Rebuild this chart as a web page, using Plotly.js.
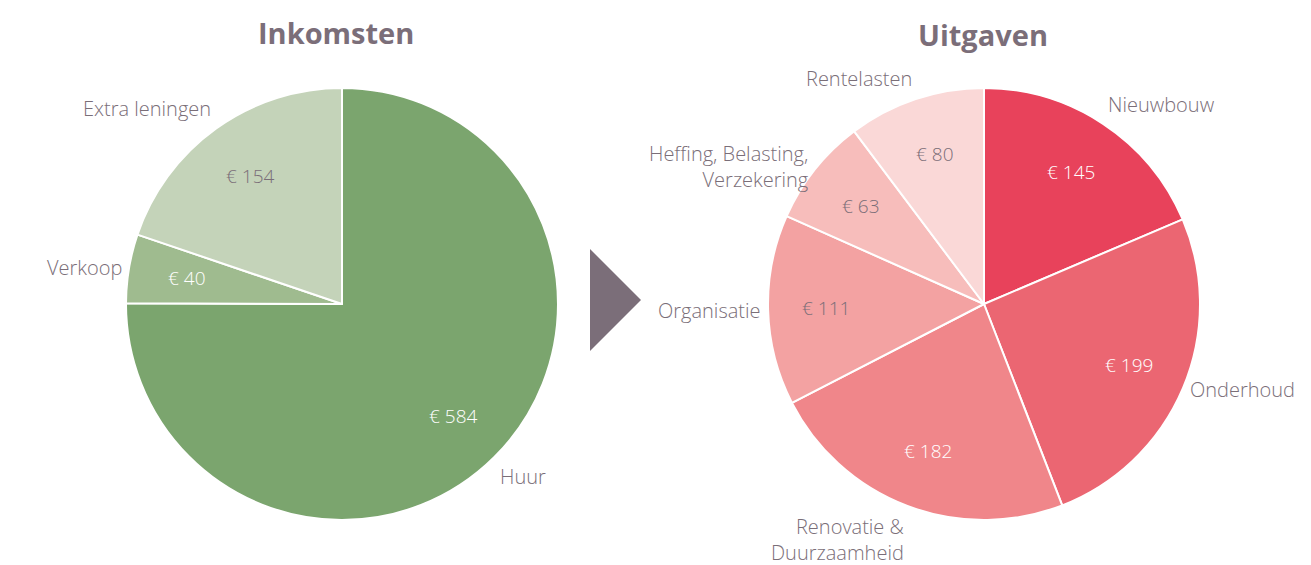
<!DOCTYPE html>
<html>
<head>
<meta charset="utf-8">
<script src="https://cdn.plot.ly/plotly-3.0.1.min.js"></script>
<style>html,body{margin:0;padding:0;background:#fff;}#chart{width:1311px;height:565px;}</style>
</head>
<body>
<div id="chart"></div>
<script>
// Data
const incomeLabels = ["Huur", "Verkoop", "Extra leningen"];
const incomeValues = [584, 40, 154];
const incomeColors = ["#7ba56e", "#9fbb8f", "#c4d3b9"];
const incomeValueTextColors = ["#ffffff", "#ffffff", "#7a6e78"];

const expenseLabels = ["Nieuwbouw", "Onderhoud", "Renovatie &<br>Duurzaamheid", "Organisatie", "Heffing, Belasting,<br>Verzekering", "Rentelasten"];
const expenseValues = [145, 199, 182, 111, 63, 80];
const expenseColors = ["#e8425b", "#eb6672", "#f0868a", "#f3a2a2", "#f7bdbb", "#fad8d7"];
const expenseValueTextColors = ["#ffffff", "#ffffff", "#ffffff", "#7a6e78", "#7a6e78", "#7a6e78"];

const titles = ["Inkomsten", "Uitgaven"];

const W = 1311, H = 565;
const labelColor = "#7a6e78";
const FONT = "Open Sans, sans-serif";

const pies = [
  {labels: incomeLabels, values: incomeValues, colors: incomeColors, textColors: incomeValueTextColors, cx: 342, cy: 304, r: 216, title: titles[0], tx: 336, ty: 32},
  {labels: expenseLabels, values: expenseValues, colors: expenseColors, textColors: expenseValueTextColors, cx: 984, cy: 304, r: 216, title: titles[1], tx: 983, ty: 34}
];

function dom(p) {
  return {x: [(p.cx - p.r) / W, (p.cx + p.r) / W], y: [(H - p.cy - p.r) / H, (H - p.cy + p.r) / H]};
}

const data = [];
const annotations = [];
pies.forEach(p => {
  data.push({
    type: "pie", labels: p.labels, values: p.values, domain: dom(p),
    sort: false, direction: "clockwise", rotation: 0,
    marker: {colors: p.colors, line: {color: "#ffffff", width: 2}},
    textinfo: "none",
    hoverinfo: "label+value", showlegend: false
  });
  const total = p.values.reduce((a, b) => a + b, 0);
  let cum = 0;
  p.values.forEach((v, i) => {
    const mid = (cum + v / 2) / total * 2 * Math.PI;
    cum += v;
    const s = Math.sin(mid), c = Math.cos(mid);
    // value inside the slice
    const rr = p.r * 0.73;
    annotations.push({
      text: "€ " + v, xref: "paper", yref: "paper",
      x: (p.cx + rr * s) / W, y: (H - (p.cy - rr * c)) / H,
      xanchor: "center", yanchor: "middle", showarrow: false,
      font: {family: FONT, size: 19, weight: 300, color: p.textColors[i]}
    });
    // category label outside the slice
    const ro = p.r + 5;
    const xa = s > 0.3 ? "left" : (s < -0.3 ? "right" : "center");
    const ya = c > 0.65 ? "bottom" : (c < -0.65 ? "top" : "middle");
    annotations.push({
      text: p.labels[i], xref: "paper", yref: "paper",
      x: (p.cx + ro * s) / W, y: (H - (p.cy - ro * c)) / H,
      xanchor: xa, yanchor: ya, align: xa === "left" ? "left" : "right", showarrow: false,
      font: {family: FONT, size: 20, weight: 300, color: labelColor}
    });
  });
  annotations.push({
    text: "<b>" + p.title + "</b>", xref: "paper", yref: "paper", x: p.tx / W, y: (H - p.ty) / H,
    xanchor: "center", yanchor: "middle", showarrow: false,
    font: {family: FONT, size: 29, color: "#7b6e79"}
  });
});

const layout = {
  width: W, height: H,
  margin: {l: 0, r: 0, t: 0, b: 0},
  paper_bgcolor: "#ffffff", plot_bgcolor: "#ffffff",
  showlegend: false,
  annotations: annotations,
  shapes: [
    {type: "path", xref: "paper", yref: "paper",
     path: "M " + (590 / W) + " " + ((H - 249) / H) + " L " + (641 / W) + " " + ((H - 300) / H) + " L " + (590 / W) + " " + ((H - 351) / H) + " Z",
     fillcolor: "#7b6e79", line: {width: 0}}
  ]
};

Plotly.newPlot("chart", data, layout, {displayModeBar: false, staticPlot: true});
</script>
</body>
</html>
